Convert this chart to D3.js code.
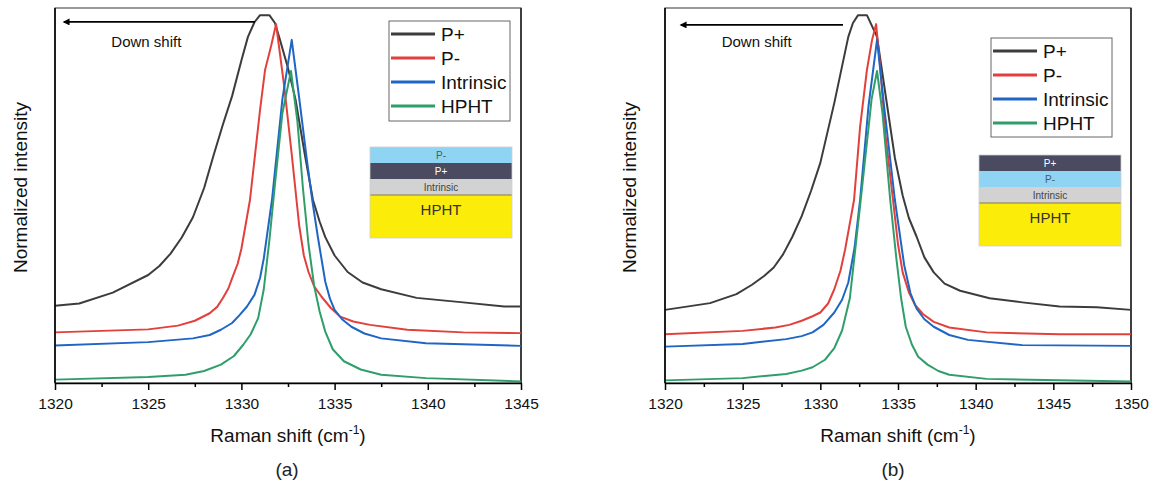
<!DOCTYPE html>
<html><head><meta charset="utf-8">
<script src="https://cdn.jsdelivr.net/npm/d3@7"></script>
<style>
body{margin:0;background:#fff;}
svg{display:block;font-family:"Liberation Sans",Arial,Helvetica,sans-serif;}
</style>
</head><body>
<svg id="chart" width="1158" height="491"></svg>
<script>
// ---------- DATA ----------
const seriesNames = ["P+", "P-", "Intrinsic", "HPHT"];
const xTicksA = [1320, 1325, 1330, 1335, 1340, 1345];
const xTicksB = [1320, 1325, 1330, 1335, 1340, 1345, 1350];
const xMinorA = [1322.5, 1327.5, 1332.5, 1337.5, 1342.5];
const xMinorB = [1322.5, 1327.5, 1332.5, 1337.5, 1342.5, 1347.5];
const layersA = ["P-", "P+", "Intrinsic", "HPHT"];
const layersB = ["P+", "P-", "Intrinsic", "HPHT"];

const aPplus = [[1320,0.206],[1321.3,0.212],[1323.1,0.241],[1325.0,0.288],[1325.6,0.312],[1326.2,0.345],[1326.8,0.388],[1327.4,0.442],[1328.0,0.520],[1328.5,0.606],[1329.0,0.688],[1329.5,0.765],[1330.0,0.860],[1330.35,0.923],[1330.7,0.962],[1331.0,0.981],[1331.5,0.981],[1331.8,0.960],[1332.07,0.915],[1332.5,0.840],[1332.9,0.757],[1333.4,0.610],[1333.84,0.488],[1334.2,0.430],[1334.5,0.389],[1335.0,0.340],[1335.7,0.296],[1336.5,0.268],[1337.5,0.250],[1339.4,0.227],[1341.9,0.215],[1344.1,0.204],[1345,0.204]];
const aPminus = [[1320,0.135],[1325,0.143],[1326.6,0.153],[1327.5,0.166],[1328.3,0.186],[1328.7,0.203],[1329.0,0.226],[1329.3,0.252],[1329.5,0.279],[1329.8,0.318],[1330.0,0.358],[1330.46,0.488],[1331.0,0.728],[1331.27,0.835],[1331.6,0.900],[1331.86,0.957],[1332.3,0.790],[1332.7,0.610],[1333.1,0.420],[1333.35,0.340],[1333.6,0.296],[1333.9,0.258],[1334.3,0.230],[1334.8,0.200],[1335.3,0.177],[1336.0,0.164],[1336.9,0.155],[1338.9,0.142],[1341.9,0.135],[1345,0.133]];
const aIntrinsic = [[1320,0.100],[1325,0.109],[1327.4,0.119],[1328.3,0.128],[1328.9,0.142],[1329.5,0.160],[1329.9,0.181],[1330.3,0.204],[1330.7,0.235],[1331.0,0.280],[1331.2,0.332],[1331.64,0.488],[1332.2,0.757],[1332.7,0.915],[1333.1,0.760],[1333.5,0.600],[1333.8,0.488],[1334.1,0.390],[1334.5,0.270],[1334.75,0.225],[1335.0,0.195],[1335.4,0.170],[1335.9,0.150],[1336.6,0.132],[1337.5,0.119],[1339.9,0.106],[1345,0.099]];
const aHPHT = [[1320,0.009],[1325,0.016],[1327.0,0.022],[1328.0,0.032],[1328.9,0.049],[1329.6,0.072],[1330.1,0.102],[1330.5,0.130],[1330.9,0.173],[1331.2,0.250],[1331.5,0.380],[1331.8,0.530],[1332.2,0.720],[1332.66,0.832],[1333.0,0.700],[1333.3,0.520],[1333.6,0.370],[1333.9,0.260],[1334.2,0.190],[1334.5,0.137],[1334.9,0.090],[1335.5,0.058],[1336.4,0.036],[1337.5,0.022],[1339.9,0.013],[1345,0.004]];

const bPplus = [[1320,0.195],[1322.9,0.213],[1324.6,0.237],[1325.6,0.262],[1326.4,0.286],[1327.0,0.308],[1327.6,0.343],[1328.2,0.390],[1328.8,0.445],[1329.4,0.512],[1330.0,0.587],[1330.9,0.747],[1331.8,0.923],[1332.1,0.960],[1332.43,0.981],[1333.0,0.981],[1333.65,0.923],[1334.3,0.740],[1334.8,0.600],[1335.3,0.500],[1335.7,0.440],[1336.2,0.390],[1336.7,0.335],[1337.3,0.295],[1338.0,0.265],[1339.0,0.246],[1340.9,0.226],[1343.0,0.215],[1345.4,0.204],[1347.8,0.202],[1350,0.195]];
const bPminus = [[1320,0.130],[1325,0.139],[1327.1,0.148],[1328.0,0.155],[1328.8,0.166],[1329.5,0.178],[1330.0,0.188],[1330.5,0.212],[1330.9,0.250],[1331.3,0.300],[1331.6,0.357],[1332.17,0.488],[1332.56,0.683],[1333.0,0.835],[1333.33,0.915],[1333.59,0.957],[1333.84,0.850],[1334.2,0.660],[1334.68,0.488],[1335.0,0.370],[1335.3,0.295],[1335.7,0.242],[1336.1,0.208],[1336.6,0.184],[1337.3,0.163],[1338.3,0.148],[1340.7,0.135],[1345.4,0.130],[1350,0.130]];
const bIntrinsic = [[1320,0.097],[1325,0.104],[1327.8,0.117],[1328.8,0.125],[1329.5,0.135],[1330.2,0.155],[1330.9,0.188],[1331.4,0.222],[1331.8,0.268],[1332.2,0.360],[1332.56,0.488],[1333.1,0.738],[1333.65,0.915],[1334.1,0.740],[1334.8,0.488],[1335.4,0.314],[1335.8,0.240],[1336.2,0.198],[1336.7,0.170],[1337.3,0.150],[1338.3,0.128],[1339.5,0.115],[1343.0,0.101],[1350,0.099]];
const bHPHT = [[1320,0.007],[1325,0.013],[1327.8,0.024],[1328.8,0.033],[1329.5,0.042],[1330.3,0.062],[1330.9,0.093],[1331.4,0.140],[1331.9,0.226],[1332.6,0.488],[1333.3,0.757],[1333.65,0.832],[1334.0,0.720],[1334.5,0.488],[1334.9,0.330],[1335.2,0.226],[1335.5,0.150],[1335.9,0.102],[1336.3,0.070],[1336.9,0.049],[1337.6,0.032],[1338.3,0.022],[1340.7,0.011],[1350,0.004]];

// annotation anchors (data units)
const arrowA = [[1330.73,0.963],[1320.16,0.963]];
const arrowB = [[1331.46,0.955],[1320.64,0.955]];
const labelA = [1324.9, 0.909];
const labelB = [1325.9, 0.909];

// ---------- STYLE ----------
const colors = {"P+":"#3c3c3c","P-":"#e2403c","Intrinsic":"#1f66c4","HPHT":"#2f9e6a"};
const layerFill = {"P-":"#8fd4f2","P+":"#4a4a60","Intrinsic":"#d2d2d2","HPHT":"#fcec0a"};
const layerText = {"P-":"#4a5a66","P+":"#ffffff","Intrinsic":"#444444","HPHT":"#333333"};

const svg = d3.select("#chart");
svg.append("defs").append("marker")
  .attr("id","ah").attr("viewBox","0 0 10 10").attr("refX",8).attr("refY",5)
  .attr("markerWidth",10).attr("markerHeight",7).attr("markerUnits","userSpaceOnUse").attr("orient","auto")
  .append("path").attr("d","M0,0 L10,5 L0,10 Z").attr("fill","#000");

function panel(cfg){
  const g = svg.append("g");
  const x = d3.scaleLinear().domain(cfg.domain).range([cfg.left, cfg.right]);
  const y = d3.scaleLinear().domain([0,1]).range([cfg.bottom, cfg.top]);

  // frame
  g.append("rect").attr("x",cfg.left).attr("y",cfg.top).attr("width",cfg.right-cfg.left).attr("height",cfg.bottom-cfg.top)
    .attr("fill","none").attr("stroke","#555").attr("stroke-width",1.2);
  g.append("line").attr("x1",cfg.right).attr("x2",cfg.right).attr("y1",cfg.top).attr("y2",cfg.bottom).attr("stroke","#222").attr("stroke-width",1.5);

  // curves
  const line = d3.line().x(d=>x(d[0])).y(d=>y(d[1])).curve(d3.curveLinear);
  cfg.series.forEach((s,i)=>{
    g.append("path").datum(s).attr("d",line).attr("fill","none")
      .attr("stroke",colors[seriesNames[i]]).attr("stroke-width",2).attr("stroke-linejoin","round");
  });

  // axes
  const ax = g.append("g").attr("transform",`translate(0,${cfg.bottom})`)
    .call(d3.axisBottom(x).tickValues(cfg.ticks).tickFormat(d3.format("d")).tickSize(7).tickPadding(8).tickSizeOuter(0));
  ax.select(".domain").attr("stroke","#000").attr("stroke-width",1.6);
  ax.selectAll(".tick line").attr("stroke","#000").attr("stroke-width",1.5);
  ax.selectAll(".tick text").attr("font-size",15.5).attr("fill","#111").attr("font-family","Liberation Sans, Arial, sans-serif");
  const mx = g.append("g").attr("transform",`translate(0,${cfg.bottom})`)
    .call(d3.axisBottom(x).tickValues(cfg.minor).tickFormat("").tickSize(4).tickSizeOuter(0));
  mx.select(".domain").remove();
  mx.selectAll(".tick line").attr("stroke","#000").attr("stroke-width",1.5);
  g.append("line").attr("x1",cfg.left).attr("x2",cfg.left).attr("y1",cfg.top).attr("y2",cfg.bottom).attr("stroke","#000").attr("stroke-width",1.6);

  // titles
  const cx = (cfg.left+cfg.right)/2;
  const t = g.append("text").attr("x",cx).attr("y",442).attr("text-anchor","middle").attr("font-size",19).attr("fill","#111");
  t.append("tspan").text("Raman shift (cm");
  t.append("tspan").text("-1").attr("font-size",12).attr("dy",-8);
  t.append("tspan").text(")").attr("dy",8);
  g.append("text").attr("transform",`translate(${cfg.ytx},${(cfg.top+cfg.bottom)/2-8}) rotate(-90)`)
    .attr("text-anchor","middle").attr("font-size",19).attr("fill","#111").text("Normalized intensity");
  g.append("text").attr("x",cfg.capx).attr("y",476).attr("text-anchor","middle").attr("font-size",19).attr("fill","#222").text(cfg.caption);

  // arrow + label
  g.append("line").attr("x1",x(cfg.arrow[0][0])).attr("y1",y(cfg.arrow[0][1]))
    .attr("x2",x(cfg.arrow[1][0])+6).attr("y2",y(cfg.arrow[1][1]))
    .attr("stroke","#000").attr("stroke-width",1.6).attr("marker-end","url(#ah)");
  g.append("text").attr("x",x(cfg.label[0])).attr("y",y(cfg.label[1])+5).attr("text-anchor","middle")
    .attr("font-size",15).attr("fill","#111").text("Down shift");

  // legend
  const L = cfg.legend;
  g.append("rect").attr("x",L.x).attr("y",L.y).attr("width",L.w).attr("height",L.h)
    .attr("fill","#fff").attr("stroke","#666").attr("stroke-width",1);
  seriesNames.forEach((n,i)=>{
    const yy = L.y+13+i*24;
    g.append("line").attr("x1",L.x+2).attr("x2",L.x+46).attr("y1",yy).attr("y2",yy)
      .attr("stroke",colors[n]).attr("stroke-width",3);
    g.append("text").attr("x",L.x+52).attr("y",yy+7).attr("font-size",19).attr("fill","#111").text(n);
  });

  // inset (layer stack)
  const I = cfg.inset;
  let yy = I.y;
  cfg.layers.forEach((n,i)=>{
    const h = n==="HPHT" ? I.hBase : I.hLayer;
    g.append("rect").attr("x",I.x).attr("y",yy).attr("width",I.w).attr("height",h).attr("fill",layerFill[n]);
    g.append("text").attr("x",I.x+I.w/2).attr("y", n==="HPHT" ? yy+20 : yy+h/2+3.5)
      .attr("text-anchor","middle").attr("font-size", n==="HPHT"?15:10).attr("fill",layerText[n]).text(n);
    yy += h;
  });
  g.append("line").attr("x1",I.x).attr("x2",I.x+I.w).attr("y1",I.y+3*I.hLayer).attr("y2",I.y+3*I.hLayer)
    .attr("stroke","#8a7a3a").attr("stroke-width",1);
  g.append("rect").attr("x",I.x).attr("y",I.y).attr("width",I.w).attr("height",3*I.hLayer+I.hBase)
    .attr("fill","none").attr("stroke","#cfcfcf").attr("stroke-width",0.8);
}

panel({domain:[1320,1345], left:55, right:521, top:8, bottom:383, ticks:xTicksA, minor:xMinorA,
  series:[aPplus,aPminus,aIntrinsic,aHPHT], ytx:27, capx:287, caption:"(a)",
  arrow:arrowA, label:labelA,
  legend:{x:389,y:21,w:121,h:100},
  inset:{x:370,y:147,w:142,hLayer:16,hBase:43}, layers:layersA});

panel({domain:[1320,1350], left:665, right:1131, top:8, bottom:383, ticks:xTicksB, minor:xMinorB,
  series:[bPplus,bPminus,bIntrinsic,bHPHT], ytx:636, capx:893, caption:"(b)",
  arrow:arrowB, label:labelB,
  legend:{x:991,y:38,w:121,h:99},
  inset:{x:979,y:155,w:142,hLayer:16,hBase:43}, layers:layersB});
</script>
</body></html>
